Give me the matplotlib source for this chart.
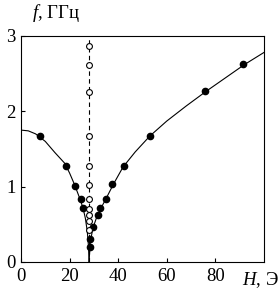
import numpy as np
import matplotlib
matplotlib.use("Agg")
import matplotlib.pyplot as plt

plt.rcParams["font.family"] = ["Liberation Serif", "DejaVu Serif"]
plt.rcParams["mathtext.fontset"] = "custom"
plt.rcParams["mathtext.it"] = "Liberation Serif:italic"
plt.rcParams["mathtext.rm"] = "Liberation Serif"

# measured points (filled), left branch
h_left = [7.8, 18.7, 22.1, 24.9, 25.6, 28.3, 28.4]
f_left = [1.67, 1.28, 1.01, 0.83, 0.71, 0.31, 0.2]
# measured points (filled), right branch
h_right = [29.7, 31.6, 32.6, 34.9, 37.4, 42.2, 53.3, 75.8, 91.4]
f_right = [0.47, 0.63, 0.71, 0.84, 1.03, 1.27, 1.67, 2.27, 2.63]
# open circles on the dashed line
h_open = 28.0
f_open = [2.87, 2.62, 2.26, 1.67, 1.27, 1.02, 0.83, 0.70, 0.62, 0.55, 0.42]

# fitted curves
curve_left_h = [0, 3, 6, 10, 14, 18, 20, 22, 24, 25.5, 26.5, 27.3, 27.8, 28]
curve_left_f = [1.75, 1.74, 1.70, 1.60, 1.45, 1.31, 1.18, 1.03, 0.86, 0.72, 0.58, 0.40, 0.20, 0]
curve_right_h = [28, 28.5, 29.5, 31, 33, 35, 38, 42, 47, 53, 60, 68, 76, 84, 92, 100]
curve_right_f = [0, 0.25, 0.44, 0.58, 0.72, 0.84, 1.03, 1.26, 1.46, 1.67, 1.87, 2.07, 2.26, 2.44, 2.62, 2.78]

fig = plt.figure(figsize=(2.78, 2.91), dpi=100)
ax = fig.add_axes([0.0755, 0.0997, 0.874, 0.777])

ax.plot(curve_left_h, curve_left_f, color="black", lw=0.8)
ax.plot(curve_right_h, curve_right_f, color="black", lw=0.8)
ax.plot([h_open, h_open], [0, 3], color="black", lw=0.8, ls=(0, (4, 3)))

ax.plot(h_left, f_left, "o", color="black", ms=4.5, mec="black")
ax.plot(h_right, f_right, "o", color="black", ms=4.5, mec="black")
ax.plot([h_open] * len(f_open), f_open, "o", mfc="white", mec="black", ms=4.2, mew=0.8)

ax.set_xlim(0, 100)
ax.set_ylim(0, 3)
ax.set_xticks([0, 20, 40, 60, 80])
ax.set_yticks([0, 1, 2, 3])
ax.tick_params(direction="in", length=3, width=0.8, labelsize=13.5, pad=4)
for s in ax.spines.values():
    s.set_linewidth(0.8)

fig.text(0.115, 0.955, r"$f$, ГГц", fontsize=13.5, ha="left", va="center")
fig.text(0.87, 0.037, r"$H$, Э", fontsize=13.5, ha="left", va="center")

fig.savefig("out.png", dpi=100)
